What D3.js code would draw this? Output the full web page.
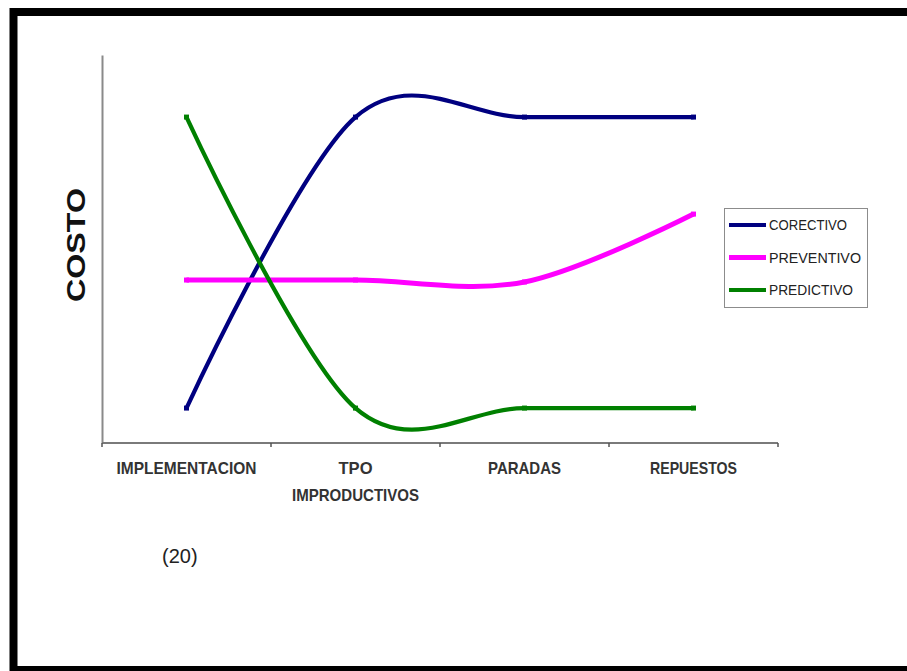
<!DOCTYPE html>
<html>
<head>
<meta charset="utf-8">
<script src="https://cdn.jsdelivr.net/npm/d3@7/dist/d3.min.js"></script>
<style>
  html, body { margin: 0; padding: 0; background: #fff; }
  svg { display: block; }
</style>
</head>
<body>
<svg id="chart" width="907" height="671"></svg>
<script>
// Cost comparison of maintenance strategies across four cost areas
const categories = ["IMPLEMENTACION", "TPO\nIMPRODUCTIVOS", "PARADAS", "REPUESTOS"];
const correctivo = [9, 84, 84, 84];
const preventivo = [42, 42, 41.5, 59];
const predictivo = [84, 9, 9, 9];
const seriesNames = ["CORECTIVO", "PREVENTIVO", "PREDICTIVO"];
const seriesColors = ["#000080", "#ff00ff", "#008000"];
const yLabel = "COSTO";
const note = "(20)";

const series = [correctivo, preventivo, predictivo].map((vals, i) => ({
  name: seriesNames[i],
  color: seriesColors[i],
  values: vals
}));

const svg = d3.select("#chart");

// page frame
svg.append("rect")
  .attr("x", 13.5).attr("y", 12)
  .attr("width", 920).attr("height", 658)
  .attr("fill", "none")
  .attr("stroke", "#000")
  .attr("stroke-width", 8);

const plot = { left: 102, right: 778, top: 55, bottom: 443 };

const x = d3.scaleBand()
  .domain(categories)
  .range([plot.left, plot.right])
  .paddingInner(0).paddingOuter(0);
const xc = c => x(c) + x.bandwidth() / 2;

const y = d3.scaleLinear()
  .domain([0, 100])
  .range([plot.bottom, plot.top]);

// value axis (line only, no ticks)
const yAxis = svg.append("g")
  .attr("transform", `translate(${plot.left},0)`)
  .call(d3.axisLeft(y).tickValues([]).tickSizeOuter(0));
yAxis.select(".domain").attr("stroke", "#8a8a8a").attr("stroke-width", 2);

// category axis with tick marks on band boundaries
const xAxis = svg.append("g")
  .attr("transform", `translate(0,${plot.bottom})`);
xAxis.append("line")
  .attr("x1", plot.left).attr("x2", plot.right)
  .attr("stroke", "#7a7a7a").attr("stroke-width", 2);
const edges = categories.map(c => x(c)).concat([x.range()[1]]);
xAxis.selectAll("line.tick")
  .data(edges)
  .join("line")
  .attr("class", "tick")
  .attr("x1", d => d).attr("x2", d => d)
  .attr("y1", 0).attr("y2", 4)
  .attr("stroke", "#555").attr("stroke-width", 1.5);

// category labels (condensed bold)
const labelWidths = { "IMPLEMENTACION": 140, "TPO": 34, "IMPRODUCTIVOS": 127, "PARADAS": 73, "REPUESTOS": 87 };
categories.forEach(c => {
  const lines = c.split("\n");
  lines.forEach((ln, i) => {
    svg.append("text")
      .attr("x", xc(c))
      .attr("y", 474 + i * 27)
      .attr("text-anchor", "middle")
      .attr("font-family", "'Liberation Sans Narrow', 'Arial Narrow', 'Liberation Sans', Arial, sans-serif")
      .attr("font-weight", "bold")
      .attr("font-size", 17)
      .attr("fill", "#333")
      .attr("textLength", labelWidths[ln] || null)
      .attr("lengthAdjust", "spacingAndGlyphs")
      .text(ln);
  });
});

// value-axis title
svg.append("text")
  .attr("transform", "translate(85,245) rotate(-90)")
  .attr("text-anchor", "middle")
  .attr("font-family", "'Liberation Sans', Arial, sans-serif")
  .attr("font-weight", "bold")
  .attr("font-size", 25)
  .attr("fill", "#111")
  .attr("textLength", 114)
  .attr("lengthAdjust", "spacingAndGlyphs")
  .text(yLabel);

// smoothed series lines
const line = d3.line()
  .x((d, i) => xc(categories[i]))
  .y(d => y(d))
  .curve(d3.curveCardinal.tension(0));

const lines = svg.append("g");
series.forEach(s => {
  lines.append("path")
    .datum(s.values)
    .attr("d", line)
    .attr("fill", "none")
    .attr("stroke", s.color)
    .attr("stroke-width", s.name === "PREVENTIVO" ? 5 : 4.2)
    .attr("stroke-linecap", "butt")
    .attr("stroke-linejoin", "round");
  lines.selectAll(null)
    .data(s.values)
    .join("rect")
    .attr("x", (d, i) => xc(categories[i]) - 2.5)
    .attr("y", d => y(d) - 2.5)
    .attr("width", 5).attr("height", 5)
    .attr("fill", s.color);
});

// legend
const lg = svg.append("g").attr("transform", "translate(724,208)");
lg.append("rect")
  .attr("x", 0.5).attr("y", 0.5)
  .attr("width", 143).attr("height", 99)
  .attr("fill", "#fff")
  .attr("stroke", "#8c8c8c").attr("stroke-width", 1);
series.forEach((s, i) => {
  const cy = 17 + i * 32.5;
  lg.append("line")
    .attr("x1", 5).attr("x2", 42)
    .attr("y1", cy).attr("y2", cy)
    .attr("stroke", s.color)
    .attr("stroke-width", s.name === "PREVENTIVO" ? 5 : 4.2);
  lg.append("text")
    .attr("x", 45).attr("y", cy + 5)
    .attr("font-family", "'Liberation Sans Narrow', 'Arial Narrow', 'Liberation Sans', Arial, sans-serif")
    .attr("font-size", 14)
    .attr("fill", "#222")
    .attr("textLength", [78, 92, 84][i])
    .attr("lengthAdjust", "spacingAndGlyphs")
    .text(s.name);
});

// reference note
svg.append("text")
  .attr("x", 162).attr("y", 563)
  .attr("font-family", "'Liberation Sans', Arial, sans-serif")
  .attr("font-size", 20)
  .attr("fill", "#222")
  .text(note);
</script>
</body>
</html>
